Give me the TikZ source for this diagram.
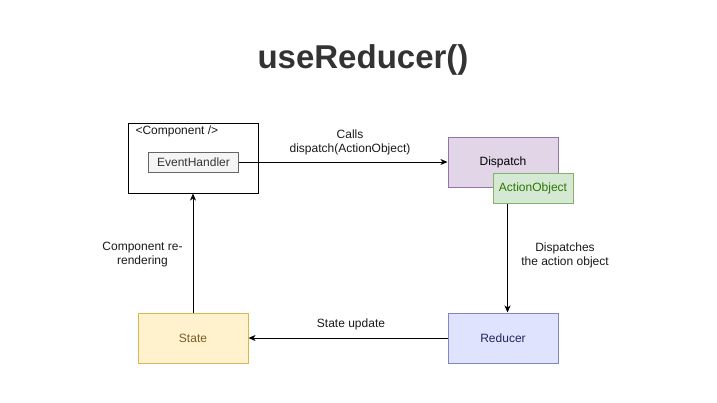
\documentclass[tikz,border=0pt]{standalone}
\usepackage{fontspec}
\setmainfont{Liberation Sans}
\usetikzlibrary{arrows.meta}

\begin{document}
\begin{tikzpicture}[x=1pt,y=-1pt,line width=1pt,
  box/.style={draw,minimum width=110pt,minimum height=50pt,inner sep=0pt,font=\fontsize{12}{14}\selectfont},
  lbl/.style={align=center,inner sep=0pt,text=black!90,font=\fontsize{12}{14}\selectfont},
  arr/.style={-{Stealth[length=7pt,width=6pt,inset=2pt]}}]
\definecolor{dispfill}{HTML}{E1D5E7}
\definecolor{displine}{HTML}{9673A6}
\definecolor{actfill}{HTML}{D5E8D4}
\definecolor{actline}{HTML}{82B366}
\definecolor{acttext}{HTML}{2D7600}
\definecolor{redfill}{HTML}{DFE3FD}
\definecolor{redline}{HTML}{7F86C3}
\definecolor{redtext}{HTML}{25255F}
\definecolor{stfill}{HTML}{FFF2CC}
\definecolor{stline}{HTML}{D6B656}
\definecolor{sttext}{HTML}{7A5C2A}
\definecolor{ehfill}{HTML}{F5F5F5}
\definecolor{ehline}{HTML}{666666}
\definecolor{titlec}{HTML}{333333}

\useasboundingbox (0,0) rectangle (717,402);

\node[text=titlec,font=\fontsize{33}{40}\selectfont\bfseries] (title) at (363,60) {useReducer()};

\node[box,minimum width=130pt,minimum height=70pt] (comp) at (193,158) {};
\node[lbl,anchor=west] (compname) at (135,131) {<Component />};
\node[box,minimum width=90pt,minimum height=20pt,fill=ehfill,draw=ehline,text=titlec] (eh) at (193.5,162) {EventHandler};

\node[box,fill=dispfill,draw=displine] (disp) at (503,162) {Dispatch};
\node[box,minimum width=80pt,minimum height=30pt,fill=actfill,draw=actline,text=acttext] (act) at (533,188) {ActionObject};

\node[box,fill=redfill,draw=redline,text=redtext] (red) at (503,338) {Reducer};
\node[box,fill=stfill,draw=stline,text=sttext] (state) at (193,338) {State};

\coordinate (down) at ([xshift=15pt]act.south west);

\draw[arr] (eh) -- (disp);
\draw[arr] (down) -- (down |- red.north);
\draw[arr] (red) -- (state);
\draw[arr] (state) -- (comp);

\node[lbl] (lblcall) at (350,142) {Calls\\dispatch(ActionObject)};
\node[lbl] (lbldisp) at (565,255) {Dispatches\\the action object};
\node[lbl] (lblrender) at (142.5,255) {Component re-\\rendering};
\node[lbl] (lblupdate) at (351,324) {State update};
\end{tikzpicture}
\end{document}
